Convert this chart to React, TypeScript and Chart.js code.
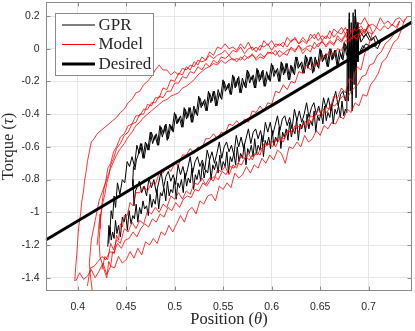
import { useEffect, useRef } from 'react';
import { Chart, registerables } from 'chart.js';

Chart.register(...registerables);

// ---- axis limits & ticks ----
const X_MIN = 0.367;
const X_MAX = 0.745;
const Y_MIN = -1.481;
const Y_MAX = 0.2856;
const X_TICKS = [0.4, 0.45, 0.5, 0.55, 0.6, 0.65, 0.7];
const Y_TICKS = [-1.4, -1.2, -1, -0.8, -0.6, -0.4, -0.2, 0, 0.2];
const LEGEND_LABELS = ['GPR', 'Model', 'Desired'];
const X_TITLE = ['Position (', '\u03b8', ')'];
const Y_TITLE = ['Torque (', '\u03c4', ')'];

// ---- Desired (straight reference) ----
const desired = [[0.367, -1.169], [0.745, 0.164]];

// ---- Model (red) branches ----
const modelLower1 = [
  [0.398,-1.42],[0.402,-1.37],[0.406,-1.41],[0.410,-1.39],[0.414,-1.35],[0.418,-1.40],[0.422,-1.36],[0.426,-1.31],
  [0.430,-1.38],[0.434,-1.33],[0.438,-1.34],[0.442,-1.27],[0.446,-1.31],[0.450,-1.29],[0.454,-1.24],[0.458,-1.28],
  [0.462,-1.22],[0.466,-1.26],[0.470,-1.18],[0.474,-1.20],[0.478,-1.16],[0.482,-1.19],[0.486,-1.12],[0.490,-1.14],
  [0.494,-1.08],[0.498,-1.12],[0.502,-1.07],[0.506,-1.02],[0.510,-1.06],[0.514,-0.99],[0.518,-0.97],[0.522,-1.01],
  [0.526,-0.93],[0.530,-0.95],[0.534,-0.90],[0.538,-0.89],[0.542,-0.93],[0.546,-0.84],[0.550,-0.86],[0.554,-0.82],
  [0.558,-0.85],[0.562,-0.76],[0.566,-0.79],[0.570,-0.77],[0.574,-0.72],[0.578,-0.76],[0.582,-0.71],[0.586,-0.73],
  [0.590,-0.67],[0.594,-0.70],[0.598,-0.65],[0.602,-0.68],[0.606,-0.62],[0.610,-0.64],[0.614,-0.70],[0.618,-0.60],
  [0.622,-0.61],[0.626,-0.57],[0.630,-0.60],[0.634,-0.53],[0.638,-0.57],[0.642,-0.55],[0.646,-0.50],[0.650,-0.53],
  [0.654,-0.47],[0.658,-0.49],[0.662,-0.45],[0.666,-0.46],[0.670,-0.41],[0.674,-0.43],[0.678,-0.37],[0.682,-0.39],
  [0.686,-0.33],[0.690,-0.35],[0.694,-0.28],[0.698,-0.29],[0.702,-0.22],[0.706,-0.19],[0.710,-0.15],[0.714,-0.08],
  [0.718,-0.06],[0.722,-0.01],[0.726,0.04],[0.730,0.06],[0.734,0.12],[0.737,0.18],
];
const modelUpper1 = [
  [0.740,0.20],[0.736,0.16],[0.732,0.19],[0.728,0.18],[0.724,0.14],[0.720,0.17],[0.716,0.15],[0.712,0.19],
  [0.708,0.13],[0.704,0.15],[0.700,0.14],[0.696,0.10],[0.692,0.14],[0.688,0.11],[0.684,0.12],[0.680,0.08],
  [0.676,0.13],[0.672,0.09],[0.668,0.10],[0.664,0.07],[0.660,0.11],[0.656,0.06],[0.652,0.08],[0.648,0.05],
  [0.644,0.09],[0.640,0.06],[0.636,0.04],[0.632,0.07],[0.628,0.03],[0.624,0.06],[0.620,0.05],[0.616,0.01],
  [0.612,0.04],[0.608,0.02],[0.604,0.03],[0.600,-0.01],[0.596,0.03],[0.592,0.01],[0.588,0.02],[0.584,-0.02],
  [0.580,0.01],[0.576,0.00],[0.572,-0.03],[0.568,0.01],[0.564,-0.02],[0.560,-0.01],[0.556,-0.04],[0.552,-0.01],
  [0.548,-0.03],[0.544,-0.04],[0.540,-0.06],[0.536,-0.04],[0.532,-0.07],[0.528,-0.08],[0.524,-0.07],[0.520,-0.11],
  [0.516,-0.10],[0.512,-0.13],[0.508,-0.12],[0.504,-0.16],[0.500,-0.14],[0.496,-0.16],[0.492,-0.13],[0.488,-0.13],
  [0.484,-0.10],[0.480,-0.13],[0.476,-0.17],[0.472,-0.20],[0.468,-0.22],[0.464,-0.26],[0.460,-0.27],[0.456,-0.31],
  [0.452,-0.33],[0.448,-0.37],[0.444,-0.39],[0.440,-0.42],[0.436,-0.44],[0.432,-0.46],[0.428,-0.48],[0.424,-0.50],
  [0.420,-0.52],[0.417,-0.55],[0.414,-0.57],[0.412,-0.63],[0.410,-0.69],[0.409,-0.74],[0.407,-0.81],[0.406,-0.87],
  [0.404,-0.94],[0.403,-1.01],[0.401,-1.09],[0.400,-1.17],[0.399,-1.26],[0.398,-1.33],[0.397,-1.42],
];
const modelLower2 = [
  [0.410,-1.45],[0.413,-1.34],[0.417,-1.33],[0.421,-1.30],[0.425,-1.27],[0.429,-1.29],[0.433,-1.24],[0.437,-1.25],
  [0.441,-1.19],[0.445,-1.22],[0.449,-1.17],[0.453,-1.16],[0.457,-1.12],[0.461,-1.15],[0.465,-1.10],[0.469,-1.07],
  [0.473,-1.09],[0.477,-1.04],[0.481,-1.06],[0.485,-1.01],[0.489,-1.03],[0.493,-0.97],[0.497,-0.99],[0.501,-0.94],
  [0.505,-0.97],[0.509,-0.92],[0.513,-0.90],[0.517,-0.91],[0.521,-0.86],[0.525,-0.87],[0.529,-0.82],[0.533,-0.84],
  [0.537,-0.80],[0.541,-0.78],[0.545,-0.80],[0.549,-0.75],[0.553,-0.77],[0.557,-0.72],[0.561,-0.73],[0.565,-0.70],
  [0.569,-0.71],[0.573,-0.66],[0.577,-0.68],[0.581,-0.64],[0.585,-0.65],[0.589,-0.61],[0.593,-0.60],[0.597,-0.58],
  [0.601,-0.60],[0.605,-0.55],[0.609,-0.54],[0.613,-0.55],[0.617,-0.50],[0.621,-0.52],[0.625,-0.47],[0.629,-0.48],
  [0.633,-0.46],[0.637,-0.43],[0.641,-0.45],[0.645,-0.40],[0.649,-0.41],[0.653,-0.37],[0.657,-0.39],[0.661,-0.34],
  [0.665,-0.35],[0.669,-0.32],[0.673,-0.29],[0.677,-0.31],[0.681,-0.27],[0.685,-0.24],[0.689,-0.22],[0.693,-0.17],
  [0.697,-0.16],[0.701,-0.10],[0.705,-0.09],[0.709,-0.04],[0.713,-0.02],[0.717,0.03],[0.721,0.05],[0.725,0.08],
  [0.729,0.12],[0.732,0.17],
];
const modelUpper2 = [
  [0.732,0.17],[0.728,0.13],[0.724,0.15],[0.720,0.12],[0.716,0.14],[0.712,0.11],[0.708,0.13],[0.704,0.09],
  [0.700,0.10],[0.696,0.12],[0.692,0.08],[0.688,0.09],[0.684,0.07],[0.680,0.05],[0.676,0.08],[0.672,0.04],
  [0.668,0.06],[0.664,0.03],[0.660,0.05],[0.656,0.02],[0.652,0.04],[0.648,0.03],[0.644,0.00],[0.640,0.02],
  [0.636,0.01],[0.632,-0.01],[0.628,0.02],[0.624,-0.02],[0.620,0.00],[0.616,-0.01],[0.612,-0.03],[0.608,-0.01],
  [0.604,-0.04],[0.600,-0.02],[0.596,-0.03],[0.592,-0.05],[0.588,-0.03],[0.584,-0.06],[0.580,-0.04],[0.576,-0.05],
  [0.572,-0.07],[0.568,-0.05],[0.564,-0.08],[0.560,-0.06],[0.556,-0.07],[0.552,-0.09],[0.548,-0.07],[0.544,-0.10],
  [0.540,-0.09],[0.536,-0.11],[0.532,-0.12],[0.528,-0.14],[0.524,-0.16],[0.520,-0.19],[0.516,-0.21],[0.512,-0.23],
  [0.508,-0.24],[0.504,-0.27],[0.500,-0.28],[0.496,-0.29],[0.492,-0.31],[0.488,-0.32],[0.484,-0.34],[0.480,-0.36],
  [0.476,-0.38],[0.472,-0.40],[0.468,-0.42],[0.464,-0.45],[0.460,-0.47],[0.456,-0.51],[0.452,-0.54],[0.448,-0.58],
  [0.444,-0.61],[0.440,-0.65],[0.437,-0.69],[0.434,-0.73],[0.431,-0.78],[0.428,-0.83],[0.425,-0.88],[0.422,-0.93],
  [0.420,-0.99],[0.418,-1.05],[0.416,-1.11],[0.414,-1.17],[0.413,-1.24],[0.412,-1.31],[0.413,-1.38],[0.415,-1.48],
];
const modelLower3 = [
  [0.425,-1.35],[0.428,-1.27],[0.431,-1.29],[0.434,-1.19],[0.437,-1.23],[0.440,-1.17],[0.444,-1.19],[0.448,-1.10],
  [0.452,-1.12],[0.456,-1.06],[0.460,-1.10],[0.464,-1.05],[0.468,-1.07],[0.472,-0.99],[0.476,-1.01],[0.480,-0.97],
  [0.484,-1.00],[0.488,-0.95],[0.492,-0.97],[0.496,-0.90],[0.500,-0.92],[0.504,-0.88],[0.508,-0.92],[0.512,-0.87],
  [0.516,-0.89],[0.520,-0.82],[0.524,-0.83],[0.528,-0.79],[0.532,-0.83],[0.536,-0.79],[0.540,-0.81],[0.544,-0.74],
  [0.548,-0.75],[0.552,-0.72],[0.556,-0.77],[0.560,-0.71],[0.564,-0.73],[0.568,-0.66],[0.572,-0.67],[0.576,-0.64],
  [0.580,-0.68],[0.584,-0.63],[0.588,-0.65],[0.592,-0.58],[0.596,-0.59],[0.600,-0.56],[0.604,-0.60],[0.608,-0.55],
  [0.612,-0.57],[0.616,-0.50],[0.620,-0.51],[0.624,-0.47],[0.628,-0.51],[0.632,-0.46],[0.636,-0.48],[0.640,-0.41],
  [0.644,-0.42],[0.648,-0.37],[0.652,-0.41],[0.656,-0.36],[0.660,-0.37],[0.664,-0.29],[0.668,-0.30],[0.672,-0.24],
  [0.676,-0.27],[0.680,-0.18],[0.684,-0.20],[0.688,-0.11],[0.692,-0.13],[0.696,-0.03],[0.700,0.02],[0.704,0.10],
];
const modelUpper3 = [
  [0.704,0.10],[0.700,0.15],[0.696,0.10],[0.692,0.12],[0.688,0.06],[0.684,0.08],[0.680,0.05],[0.676,0.09],
  [0.672,0.05],[0.668,0.08],[0.664,0.02],[0.660,0.04],[0.656,0.01],[0.652,0.05],[0.648,0.01],[0.644,0.04],
  [0.640,-0.02],[0.636,0.00],[0.632,-0.03],[0.628,0.02],[0.624,-0.01],[0.620,0.01],[0.616,-0.04],[0.612,-0.03],
  [0.608,-0.05],[0.604,-0.01],[0.600,-0.03],[0.596,-0.02],[0.592,-0.06],[0.588,-0.05],[0.584,-0.07],[0.580,-0.03],
  [0.576,-0.06],[0.572,-0.04],[0.568,-0.07],[0.564,-0.06],[0.560,-0.07],[0.556,-0.04],[0.552,-0.06],[0.548,-0.05],
  [0.544,-0.09],[0.540,-0.07],[0.536,-0.11],[0.532,-0.09],[0.528,-0.13],[0.524,-0.11],[0.520,-0.15],[0.516,-0.14],
  [0.512,-0.18],[0.508,-0.17],[0.504,-0.21],[0.500,-0.21],[0.496,-0.26],[0.492,-0.26],[0.488,-0.30],[0.484,-0.29],
  [0.480,-0.33],[0.476,-0.33],[0.472,-0.37],[0.468,-0.37],[0.464,-0.41],[0.460,-0.41],[0.456,-0.46],[0.452,-0.47],
  [0.448,-0.52],[0.444,-0.54],[0.440,-0.60],[0.437,-0.63],[0.434,-0.70],[0.431,-0.73],[0.429,-0.81],[0.427,-0.86],
  [0.425,-0.95],[0.424,-1.01],[0.423,-1.10],[0.422,-1.17],[0.423,-1.27],[0.426,-1.33],[0.430,-1.40],
];
const modelLower4 = [
  [0.430,-1.40],[0.432,-1.30],[0.434,-1.33],[0.436,-1.24],[0.438,-1.25],[0.440,-1.14],[0.442,-1.17],[0.444,-1.07],
  [0.446,-1.09],[0.448,-1.02],[0.451,-1.02],[0.454,-0.94],[0.457,-0.96],[0.460,-0.88],[0.464,-0.88],[0.468,-0.84],
  [0.472,-0.87],[0.476,-0.82],[0.480,-0.83],[0.484,-0.76],[0.488,-0.76],[0.492,-0.72],[0.496,-0.75],[0.500,-0.70],
  [0.504,-0.71],[0.508,-0.65],[0.512,-0.65],[0.516,-0.61],[0.520,-0.64],[0.524,-0.60],[0.528,-0.61],[0.532,-0.55],
  [0.536,-0.55],[0.540,-0.52],[0.544,-0.55],[0.548,-0.51],[0.552,-0.52],[0.556,-0.46],[0.560,-0.47],[0.564,-0.44],
  [0.568,-0.47],[0.572,-0.43],[0.576,-0.45],[0.580,-0.38],[0.584,-0.39],[0.588,-0.35],[0.592,-0.38],[0.596,-0.33],
  [0.600,-0.34],[0.604,-0.26],[0.608,-0.27],[0.612,-0.22],[0.616,-0.25],[0.620,-0.20],[0.624,-0.21],[0.628,-0.14],
  [0.632,-0.15],[0.636,-0.10],[0.640,-0.13],[0.644,-0.09],[0.648,-0.10],[0.652,-0.04],[0.656,-0.05],[0.660,-0.01],
  [0.664,-0.04],[0.668,0.00],[0.672,-0.01],[0.676,0.05],[0.680,0.04],[0.684,0.08],[0.688,0.05],[0.692,0.11],
  [0.696,0.09],[0.700,0.14],
];
const modelUpper4 = [
  [0.700,0.14],[0.696,0.19],[0.692,0.15],[0.688,0.16],[0.684,0.10],[0.680,0.12],[0.676,0.09],[0.672,0.13],
  [0.668,0.10],[0.664,0.12],[0.660,0.06],[0.656,0.08],[0.652,0.05],[0.648,0.10],[0.644,0.06],[0.640,0.09],
  [0.636,0.03],[0.632,0.05],[0.628,0.03],[0.624,0.07],[0.620,0.04],[0.616,0.07],[0.612,0.01],[0.608,0.03],
  [0.604,0.01],[0.600,0.05],[0.596,0.02],[0.592,0.05],[0.588,-0.01],[0.584,0.01],[0.580,-0.01],[0.576,0.04],
  [0.572,0.00],[0.568,0.03],[0.564,-0.01],[0.560,0.01],[0.556,0.00],[0.552,0.03],[0.548,0.00],[0.544,0.01],
  [0.540,-0.04],[0.536,-0.02],[0.532,-0.07],[0.528,-0.05],[0.524,-0.10],[0.520,-0.08],[0.516,-0.13],[0.512,-0.11],
  [0.508,-0.16],[0.504,-0.15],[0.500,-0.20],[0.496,-0.19],[0.492,-0.25],[0.488,-0.24],[0.484,-0.30],[0.480,-0.30],
  [0.476,-0.35],[0.472,-0.34],[0.468,-0.40],[0.464,-0.40],[0.460,-0.45],[0.456,-0.46],[0.452,-0.51],[0.448,-0.53],
  [0.444,-0.58],[0.440,-0.61],[0.437,-0.67],[0.434,-0.71],[0.432,-0.78],[0.430,-0.82],[0.428,-0.89],[0.426,-0.94],
  [0.424,-1.01],[0.422,-1.07],[0.421,-1.14],[0.420,-1.20],
];

// ---- GPR (black) branches ----
const gprLowerB = [
  [0.4320,-1.19],[0.4333,-1.09],[0.4346,-1.17],[0.4360,-1.12],[0.4375,-1.16],[0.4390,-1.05],[0.4405,-1.13],[0.4420,-1.08],
  [0.4440,-1.15],[0.4460,-1.03],[0.4478,-1.06],[0.4495,-1.01],[0.4512,-1.11],[0.4530,-0.99],[0.4550,-1.07],[0.4568,-1.02],
  [0.4585,-1.04],[0.4603,-0.95],[0.4620,-1.06],[0.4638,-0.97],[0.4655,-1.01],[0.4673,-0.93],[0.4690,-0.98],[0.4710,-0.96],
  [0.4728,-1.02],[0.4745,-0.89],[0.4763,-0.97],[0.4780,-0.92],[0.4800,-0.95],[0.4818,-0.86],[0.4835,-0.98],[0.4853,-0.88],
  [0.4870,-0.90],[0.4890,-0.85],[0.4908,-0.93],[0.4925,-0.81],[0.4943,-0.90],[0.4960,-0.86],[0.4980,-0.88],[0.4998,-0.79],
  [0.5015,-0.92],[0.5033,-0.82],[0.5050,-0.85],[0.5070,-0.80],[0.5088,-0.88],[0.5105,-0.76],[0.5123,-0.84],[0.5140,-0.79],
  [0.5160,-0.82],[0.5178,-0.73],[0.5195,-0.86],[0.5213,-0.77],[0.5230,-0.80],[0.5250,-0.74],[0.5268,-0.81],[0.5285,-0.70],
  [0.5303,-0.79],[0.5320,-0.74],[0.5340,-0.76],[0.5358,-0.68],[0.5375,-0.80],[0.5393,-0.71],[0.5410,-0.74],[0.5430,-0.69],
  [0.5448,-0.76],[0.5465,-0.65],[0.5483,-0.74],[0.5500,-0.69],[0.5520,-0.72],[0.5538,-0.63],[0.5555,-0.76],[0.5573,-0.66],
  [0.5590,-0.69],[0.5610,-0.64],[0.5628,-0.71],[0.5645,-0.60],[0.5663,-0.69],[0.5680,-0.64],[0.5700,-0.67],[0.5718,-0.58],
  [0.5735,-0.71],[0.5753,-0.61],[0.5770,-0.64],[0.5790,-0.59],[0.5808,-0.66],[0.5825,-0.55],[0.5843,-0.64],[0.5860,-0.59],
  [0.5880,-0.62],[0.5898,-0.53],[0.5915,-0.66],[0.5933,-0.56],[0.5950,-0.59],[0.5970,-0.54],[0.5988,-0.61],[0.6005,-0.50],
  [0.6023,-0.59],[0.6040,-0.54],[0.6060,-0.57],[0.6078,-0.48],[0.6095,-0.61],[0.6113,-0.51],[0.6130,-0.54],[0.6150,-0.49],
  [0.6168,-0.56],[0.6185,-0.45],[0.6203,-0.54],[0.6220,-0.49],[0.6240,-0.52],[0.6258,-0.43],[0.6275,-0.56],[0.6293,-0.46],
  [0.6310,-0.49],[0.6330,-0.44],[0.6348,-0.51],[0.6365,-0.40],[0.6383,-0.49],[0.6400,-0.44],[0.6420,-0.47],[0.6438,-0.38],
  [0.6455,-0.51],[0.6473,-0.41],[0.6490,-0.44],[0.6510,-0.39],[0.6528,-0.46],[0.6545,-0.35],[0.6563,-0.44],[0.6580,-0.39],
  [0.6600,-0.42],[0.6618,-0.34],[0.6635,-0.46],[0.6653,-0.37],[0.6670,-0.40],[0.6690,-0.35],[0.6708,-0.42],[0.6725,-0.32],
  [0.6743,-0.41],[0.6760,-0.37],[0.6775,-0.39],
];
const gprSwitch1 = [
  [0.6775,-0.39],[0.678,0.12],[0.679,-0.32],[0.680,0.22],[0.681,-0.26],[0.682,0.16],[0.683,-0.38],[0.684,0.06],
  [0.685,-0.22],[0.686,0.20],[0.684,-0.12],[0.687,0.14],[0.688,-0.06],[0.686,0.24],[0.689,0.02],[0.691,0.11],
  [0.695,0.07],[0.699,0.10],[0.703,0.05],[0.707,0.08],[0.711,0.03],[0.713,0.05],[0.709,0.00],[0.704,0.03],
  [0.699,-0.01],[0.694,0.02],[0.690,-0.03],[0.686,0.04],
];
const gprUpper1 = [
  [0.6860,0.04],[0.6835,-0.06],[0.6810,0.01],[0.6785,-0.02],[0.6760,0.03],[0.6735,-0.07],[0.6710,-0.03],[0.6685,-0.10],
  [0.6660,-0.01],[0.6635,-0.06],[0.6610,0.00],[0.6585,-0.11],[0.6560,-0.03],[0.6535,-0.07],[0.6510,-0.01],[0.6485,-0.12],
  [0.6460,-0.07],[0.6435,-0.14],[0.6410,-0.05],[0.6385,-0.10],[0.6360,-0.05],[0.6335,-0.15],[0.6310,-0.08],[0.6285,-0.11],
  [0.6260,-0.05],[0.6235,-0.16],[0.6210,-0.11],[0.6185,-0.19],[0.6160,-0.09],[0.6135,-0.15],[0.6110,-0.09],[0.6085,-0.20],
  [0.6060,-0.12],[0.6035,-0.15],[0.6010,-0.10],[0.5985,-0.20],[0.5960,-0.16],[0.5935,-0.23],[0.5910,-0.13],[0.5885,-0.19],
  [0.5860,-0.13],[0.5835,-0.24],[0.5810,-0.16],[0.5785,-0.19],[0.5760,-0.14],[0.5735,-0.24],[0.5710,-0.20],[0.5685,-0.27],
  [0.5660,-0.17],[0.5635,-0.23],[0.5610,-0.17],[0.5585,-0.28],[0.5560,-0.21],[0.5535,-0.25],[0.5510,-0.20],[0.5485,-0.31],
  [0.5460,-0.27],[0.5435,-0.35],[0.5410,-0.26],[0.5385,-0.32],[0.5360,-0.27],[0.5335,-0.38],[0.5310,-0.31],[0.5285,-0.35],
  [0.5260,-0.30],[0.5235,-0.41],[0.5210,-0.37],[0.5185,-0.45],[0.5160,-0.36],[0.5135,-0.42],[0.5110,-0.37],[0.5085,-0.48],
  [0.5060,-0.41],[0.5035,-0.45],[0.5010,-0.40],[0.4985,-0.51],[0.4960,-0.47],[0.4935,-0.55],[0.4910,-0.46],[0.4885,-0.52],
  [0.4860,-0.48],[0.4835,-0.59],[0.4810,-0.52],[0.4785,-0.56],[0.4760,-0.51],[0.4735,-0.62],[0.4710,-0.58],[0.4685,-0.67],
  [0.4660,-0.58],[0.4635,-0.64],[0.4610,-0.59],[0.4585,-0.72],[0.4560,-0.66],[0.4535,-0.72],[0.4510,-0.69],[0.4485,-0.82],
  [0.4460,-0.80],[0.4435,-0.89],[0.4410,-0.82],[0.4390,-0.97],[0.4375,-0.90],[0.4360,-1.04],[0.4345,-0.99],[0.4330,-1.14],
  [0.4322,-1.08],[0.4310,-1.21],
];
const gprLowerA = [
  [0.4580,-0.96],[0.4595,-0.87],[0.4610,-0.85],[0.4635,-0.81],[0.4660,-0.88],[0.4685,-0.84],[0.4710,-0.90],[0.4735,-0.79],
  [0.4760,-0.85],[0.4785,-0.80],[0.4810,-0.88],[0.4835,-0.82],[0.4860,-0.75],[0.4885,-0.85],[0.4910,-0.78],[0.4935,-0.75],
  [0.4960,-0.81],[0.4985,-0.77],[0.5010,-0.83],[0.5035,-0.71],[0.5060,-0.77],[0.5085,-0.72],[0.5110,-0.79],[0.5135,-0.73],
  [0.5160,-0.66],[0.5185,-0.76],[0.5210,-0.69],[0.5235,-0.66],[0.5260,-0.72],[0.5285,-0.68],[0.5310,-0.74],[0.5335,-0.62],
  [0.5360,-0.68],[0.5385,-0.63],[0.5410,-0.70],[0.5435,-0.64],[0.5460,-0.57],[0.5485,-0.67],[0.5510,-0.60],[0.5535,-0.57],
  [0.5560,-0.63],[0.5585,-0.59],[0.5610,-0.65],[0.5635,-0.53],[0.5660,-0.60],[0.5685,-0.54],[0.5710,-0.61],[0.5735,-0.55],
  [0.5760,-0.49],[0.5785,-0.58],[0.5810,-0.51],[0.5835,-0.49],[0.5860,-0.55],[0.5885,-0.50],[0.5910,-0.57],[0.5935,-0.45],
  [0.5960,-0.51],[0.5985,-0.45],[0.6010,-0.53],[0.6035,-0.47],[0.6060,-0.41],[0.6085,-0.50],[0.6110,-0.43],[0.6135,-0.41],
  [0.6160,-0.47],[0.6185,-0.42],[0.6210,-0.49],[0.6235,-0.37],[0.6260,-0.44],[0.6285,-0.38],[0.6310,-0.45],[0.6335,-0.40],
  [0.6360,-0.33],[0.6385,-0.42],[0.6410,-0.36],[0.6435,-0.33],[0.6460,-0.40],[0.6485,-0.35],[0.6510,-0.41],[0.6535,-0.30],
  [0.6560,-0.36],[0.6585,-0.30],[0.6610,-0.38],[0.6635,-0.32],[0.6660,-0.26],[0.6685,-0.35],[0.6710,-0.28],[0.6735,-0.26],
  [0.6760,-0.32],[0.6790,-0.20],
];
const gprSwitch2 = [
  [0.679,-0.20],[0.680,0.18],[0.681,-0.18],[0.682,0.10],[0.683,-0.28],[0.684,0.22],[0.685,-0.14],[0.686,0.08],
  [0.687,-0.30],[0.688,0.16],[0.689,-0.08],[0.690,0.12],[0.692,0.04],[0.697,0.09],[0.701,0.05],[0.705,0.07],
  [0.708,0.02],[0.703,0.01],[0.697,0.03],[0.692,-0.02],[0.6873,-0.03],
];
const gprUpper2 = [
  [0.6873,-0.03],[0.6848,0.05],[0.6823,-0.07],[0.6798,0.00],[0.6773,-0.04],[0.6748,0.04],[0.6723,-0.06],[0.6698,-0.01],
  [0.6673,-0.10],[0.6648,-0.01],[0.6623,-0.07],[0.6598,0.00],[0.6573,-0.11],[0.6548,-0.04],[0.6523,-0.08],[0.6498,0.00],
  [0.6473,-0.11],[0.6448,-0.05],[0.6423,-0.15],[0.6398,-0.05],[0.6373,-0.12],[0.6348,-0.04],[0.6323,-0.15],[0.6298,-0.09],
  [0.6273,-0.12],[0.6248,-0.05],[0.6223,-0.15],[0.6198,-0.10],[0.6173,-0.19],[0.6148,-0.09],[0.6123,-0.16],[0.6098,-0.08],
  [0.6073,-0.20],[0.6048,-0.13],[0.6023,-0.17],[0.5998,-0.09],[0.5973,-0.19],[0.5948,-0.14],[0.5923,-0.23],[0.5898,-0.14],
  [0.5873,-0.20],[0.5848,-0.12],[0.5823,-0.24],[0.5798,-0.17],[0.5773,-0.21],[0.5748,-0.13],[0.5723,-0.23],[0.5698,-0.18],
  [0.5673,-0.27],[0.5648,-0.18],[0.5623,-0.24],[0.5598,-0.16],[0.5573,-0.28],[0.5548,-0.22],[0.5523,-0.26],[0.5498,-0.19],
  [0.5473,-0.30],[0.5448,-0.25],[0.5423,-0.35],[0.5398,-0.26],[0.5373,-0.33],[0.5348,-0.26],[0.5323,-0.38],[0.5298,-0.32],
  [0.5273,-0.36],[0.5248,-0.29],[0.5223,-0.40],[0.5198,-0.35],[0.5173,-0.45],[0.5148,-0.36],[0.5123,-0.43],[0.5098,-0.36],
  [0.5073,-0.48],[0.5048,-0.42],[0.5023,-0.46],[0.4998,-0.39],[0.4973,-0.50],[0.4948,-0.46],[0.4923,-0.56],[0.4898,-0.47],
  [0.4873,-0.54],[0.4848,-0.47],[0.4823,-0.59],[0.4798,-0.53],[0.4773,-0.58],[0.4748,-0.51],[0.4723,-0.62],[0.4698,-0.57],
  [0.4673,-0.67],[0.4648,-0.58],[0.4623,-0.65],[0.4605,-0.68],[0.4590,-0.74],[0.4575,-0.72],[0.4565,-0.84],[0.4570,-0.80],
  [0.4580,-0.96],
];

const MODEL_BRANCHES = [modelLower1, modelUpper1, modelLower2, modelUpper2, modelLower3, modelUpper3, modelLower4, modelUpper4];
const GPR_BRANCHES = [gprLowerB, gprSwitch1, gprUpper1, gprLowerA, gprSwitch2, gprUpper2];

const SERIF = '"Liberation Serif", "Times New Roman", serif';
const SANS = '"Liberation Sans", Arial, Helvetica, sans-serif';
const AXIS_COLOR = '#8a8a8a';

function drawMixed(ctx: CanvasRenderingContext2D, parts: string[], cx: number, cy: number, size: number) {
  const fonts = [`${size}px ${SERIF}`, `italic ${size}px ${SERIF}`, `${size}px ${SERIF}`];
  let total = 0;
  const widths = parts.map((p, i) => {
    ctx.font = fonts[i];
    const w = ctx.measureText(p).width;
    total += w;
    return w;
  });
  let x = cx - total / 2;
  ctx.textBaseline = 'middle';
  ctx.textAlign = 'left';
  parts.forEach((p, i) => {
    ctx.font = fonts[i];
    ctx.fillText(p, x, cy);
    x += widths[i];
  });
}

const matlabPlugin = {
  id: 'matlabAxes',
  afterDraw(chart: any) {
    const { ctx, chartArea: a, scales } = chart;
    const xs = scales.x;
    const ys = scales.y;
    ctx.save();
    const L = Math.round(a.left) + 0.5;
    const R = Math.round(a.right) - 0.5;
    const T = Math.round(a.top) + 0.5;
    const B = Math.round(a.bottom) - 0.5;
    ctx.strokeStyle = AXIS_COLOR;
    ctx.lineWidth = 1;
    ctx.strokeRect(L, T, R - L, B - T);
    const tl = 4;
    ctx.beginPath();
    X_TICKS.forEach((v) => {
      const px = Math.round(xs.getPixelForValue(v)) + 0.5;
      ctx.moveTo(px, B); ctx.lineTo(px, B - tl);
      ctx.moveTo(px, T); ctx.lineTo(px, T + tl);
    });
    Y_TICKS.forEach((v) => {
      const py = Math.round(ys.getPixelForValue(v)) + 0.5;
      ctx.moveTo(L, py); ctx.lineTo(L + tl, py);
      ctx.moveTo(R, py); ctx.lineTo(R - tl, py);
    });
    ctx.stroke();

    ctx.fillStyle = '#262626';
    drawMixed(ctx, X_TITLE, (a.left + a.right) / 2, 320, 16.5);
    ctx.save();
    ctx.translate(9, (a.top + a.bottom) / 2);
    ctx.rotate(-Math.PI / 2);
    drawMixed(ctx, Y_TITLE, 0, 0, 16.5);
    ctx.restore();

    const lx = 55.5, ly = 13.5, lw = 98, lh = 62;
    ctx.fillStyle = '#ffffff';
    ctx.fillRect(lx, ly, lw, lh);
    ctx.strokeStyle = AXIS_COLOR;
    ctx.lineWidth = 1;
    ctx.strokeRect(lx, ly, lw, lh);
    const rows = [25, 44.5, 64];
    const styles = [
      { c: '#000000', w: 1 },
      { c: '#ff0000', w: 1 },
      { c: '#000000', w: 3 },
    ];
    rows.forEach((ry, i) => {
      ctx.strokeStyle = styles[i].c;
      ctx.lineWidth = styles[i].w;
      ctx.beginPath();
      ctx.moveTo(62, ry);
      ctx.lineTo(95, ry);
      ctx.stroke();
      ctx.fillStyle = '#262626';
      ctx.font = `17px ${SERIF}`;
      ctx.textAlign = 'left';
      ctx.textBaseline = 'middle';
      ctx.fillText(LEGEND_LABELS[i], 98.5, ry + 0.5);
    });
    ctx.restore();
  },
};

const toXY = (arr: number[][]) => arr.map(([x, y]) => ({ x, y }));

export default function App() {
  const ref = useRef<HTMLCanvasElement | null>(null);
  useEffect(() => {
    if (!ref.current) return;
    const lineBase = {
      pointRadius: 0,
      pointHoverRadius: 0,
      tension: 0,
      fill: false,
      showLine: true,
      borderJoinStyle: 'round' as const,
    };
    const datasets: any[] = [];
    GPR_BRANCHES.forEach((b, i) => {
      datasets.push({
        ...lineBase,
        label: i === 0 ? LEGEND_LABELS[0] : '',
        data: toXY(b),
        borderColor: '#000000',
        borderWidth: 1,
        order: 3,
      });
    });
    MODEL_BRANCHES.forEach((b, i) => {
      datasets.push({
        ...lineBase,
        label: i === 0 ? LEGEND_LABELS[1] : '',
        data: toXY(b),
        borderColor: '#ff0000',
        borderWidth: 0.8,
        order: 2,
      });
    });
    datasets.push({
      ...lineBase,
      label: LEGEND_LABELS[2],
      data: toXY(desired),
      borderColor: '#000000',
      borderWidth: 3,
      order: 1,
    });

    const chart = new Chart(ref.current, {
      type: 'scatter',
      data: { datasets },
      options: {
        animation: false,
        responsive: false,
        events: [],
        layout: { padding: { left: 0, right: 2.7, top: 2, bottom: 0 } },
        plugins: { legend: { display: false }, tooltip: { enabled: false } },
        scales: {
          x: {
            type: 'linear',
            min: X_MIN,
            max: X_MAX,
            afterBuildTicks: (s: any) => { s.ticks = X_TICKS.map((v) => ({ value: v })); },
            afterFit: (s: any) => { s.height = 40; s.paddingLeft = 0; s.paddingRight = 0; },
            grid: { color: '#e6e6e6', drawTicks: false },
            border: { display: false },
            ticks: {
              padding: 10,
              color: '#262626',
              font: { family: SANS, size: 10.5 },
              maxRotation: 0,
              callback: (v: any) => String(Number(v)),
            },
          },
          y: {
            type: 'linear',
            min: Y_MIN,
            max: Y_MAX,
            afterBuildTicks: (s: any) => { s.ticks = Y_TICKS.map((v) => ({ value: v })); },
            afterFit: (s: any) => { s.width = 45.7; s.paddingTop = 0; s.paddingBottom = 0; },
            grid: { color: '#e6e6e6', drawTicks: false },
            border: { display: false },
            ticks: {
              padding: 6,
              color: '#262626',
              font: { family: SANS, size: 10.5 },
              callback: (v: any) => String(Number(v)),
            },
          },
        },
      },
      plugins: [matlabPlugin],
    });
    return () => chart.destroy();
  }, []);

  return (
    <div style={{ position: 'fixed', left: 0, top: 0, width: 415, height: 331, background: '#fff' }}>
      <canvas ref={ref} width={415} height={331} style={{ width: 415, height: 331, display: 'block' }} />
    </div>
  );
}
